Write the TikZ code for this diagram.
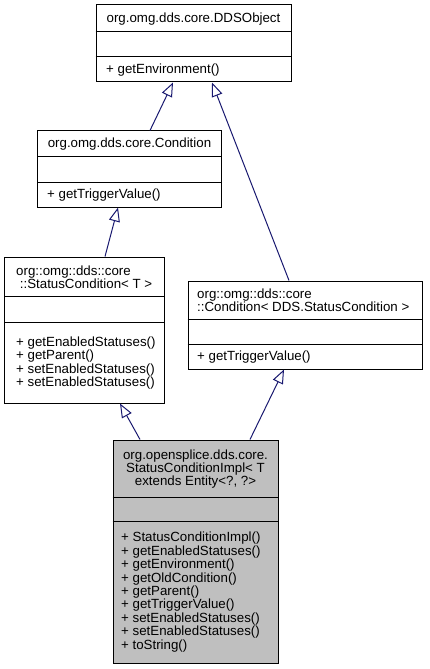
\documentclass[tikz,border=0pt]{standalone}
\usepackage{fontspec}
\setmainfont{Liberation Sans}
\usetikzlibrary{arrows.meta}
\definecolor{edgeblue}{RGB}{25,25,112}
\definecolor{hlgray}{RGB}{191,191,191}
\begin{document}
\begin{tikzpicture}[x=1bp,y=-1bp,
  cls/.style={draw=black, line width=1bp, inner sep=0pt, fill=white},
  sepline/.style={draw=black, line width=1bp},
  txt/.style={inner sep=0pt, font=\fontsize{13.3bp}{13.4bp}\selectfont, align=left, anchor=west},
  ttl/.style={inner sep=0pt, font=\fontsize{13.3bp}{13.4bp}\selectfont, align=center},
  inh/.style={draw=edgeblue, line width=1bp, -{Triangle[open, length=14bp, width=11bp, line width=1bp]}}
]
\useasboundingbox[fill=white] (0,0) rectangle (429,669);

% DDSObject
\node[cls, minimum width=195bp, minimum height=77bp] (ddso) at (193.5,43.5) {};
\draw[sepline] (ddso.west |- 0,32) -- (ddso.east |- 0,32);
\draw[sepline] (ddso.west |- 0,57) -- (ddso.east |- 0,57);
\node[ttl] (ddsot) at (193.5,19) {org.omg.dds.core.DDSObject};
\node[txt] (ddsom) at (106,70) {+ getEnvironment()};

% Condition
\node[cls, minimum width=183bp, minimum height=76bp] (cond) at (129.5,169) {};
\draw[sepline] (cond.west |- 0,156) -- (cond.east |- 0,156);
\draw[sepline] (cond.west |- 0,182) -- (cond.east |- 0,182);
\node[ttl] (condt) at (129.5,144) {org.omg.dds.core.Condition};
\node[txt] (condm) at (47,195) {+ getTriggerValue()};

% StatusCondition<T>
\node[cls, minimum width=159bp, minimum height=146bp] (sc) at (84.5,330) {};
\draw[sepline] (sc.west |- 0,296) -- (sc.east |- 0,296);
\draw[sepline] (sc.west |- 0,322) -- (sc.east |- 0,322);
\node[txt] (sct) at (16,277) {org::omg::dds::core\\\ ::StatusCondition< T >};
\node[txt] (scm) at (16,363) {+ getEnabledStatuses()\\+ getParent()\\+ setEnabledStatuses()\\+ setEnabledStatuses()};

% Condition<DDS.StatusCondition>
\node[cls, minimum width=234bp, minimum height=88bp] (cdds) at (305,325) {};
\draw[sepline] (cdds.west |- 0,319) -- (cdds.east |- 0,319);
\draw[sepline] (cdds.west |- 0,344) -- (cdds.east |- 0,344);
\node[txt] (cddst) at (197,300) {org::omg::dds::core\\::Condition< DDS.StatusCondition >};
\node[txt] (cddsm) at (197,357) {+ getTriggerValue()};

% StatusConditionImpl
\node[cls, fill=hlgray, minimum width=165bp, minimum height=223bp] (impl) at (195.5,551.5) {};
\draw[sepline] (impl.west |- 0,497) -- (impl.east |- 0,497);
\draw[sepline] (impl.west |- 0,521) -- (impl.east |- 0,521);
\node[ttl] (implt) at (195.5,469) {org.opensplice.dds.core.\\StatusConditionImpl< T\\extends Entity<?, ?>};
\node[txt] (implm) at (121,592) {+ StatusConditionImpl()\\+ getEnabledStatuses()\\+ getEnvironment()\\+ getOldCondition()\\+ getParent()\\+ getTriggerValue()\\+ setEnabledStatuses()\\+ setEnabledStatuses()\\+ toString()};

% edges
\draw[inh] ([xshift=20.5bp]cond.north) -- ([xshift=-20.5bp]ddso.south);
\draw[inh] ([xshift=-16bp]cdds.north) -- ([xshift=18.5bp]ddso.south);
\draw[inh] ([xshift=20.5bp]sc.north) -- ([xshift=-11.5bp]cond.south);
\draw[inh] ([xshift=-55.5bp]impl.north) -- ([xshift=35.5bp]sc.south);
\draw[inh] ([xshift=54.5bp]impl.north) -- ([xshift=-21bp]cdds.south);
\end{tikzpicture}
\end{document}
